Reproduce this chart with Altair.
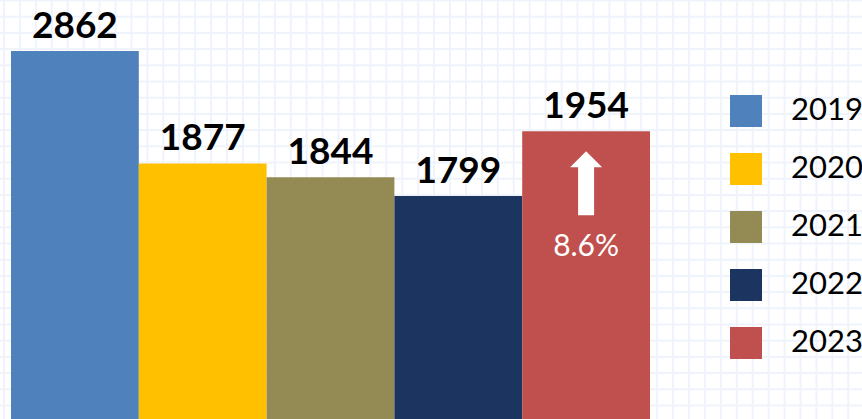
import altair as alt
import pandas as pd

# ---- data ----
years = ["2019", "2020", "2021", "2022", "2023"]
values = [2862, 1877, 1844, 1799, 1954]
colors = ["#4F81BD", "#FFC000", "#948A54", "#1B3560", "#C0504D"]
change_year = ["2023"]
change_value = [1954]
change_label = ["8.6%"]

W, H = 862, 419
FONT = "Lato"
GRID = "#EFF4FC"

df = pd.DataFrame({"year": years, "value": values})
ann = pd.DataFrame({"year": change_year, "value": change_value, "label": change_label})

# decorative background grid (graph-paper look)
grid_x = [4 + 15.93 * i for i in range(int(W / 15.93) + 1)]
grid_y = [0.5 + 16.2 * i for i in range(int(H / 16.2) + 1)]

# broken (piecewise) value scale as in the reference
ybase = 1265.2
yscale = alt.Scale(domain=[ybase, 2000, 2862], range=[H, 112.1, 51], zero=False, nice=False)
xscale = alt.Scale(domain=years, range=[11, 650], paddingInner=0, paddingOuter=0)

grid_v = alt.Chart(pd.DataFrame({"gx": grid_x})).mark_rule(color=GRID, strokeWidth=2).encode(
    x=alt.X("gx:Q", scale=alt.Scale(domain=[0, W], range=[0, W], nice=False, zero=False), axis=None)
)
grid_h = alt.Chart(pd.DataFrame({"gy": grid_y})).mark_rule(color=GRID, strokeWidth=2).encode(
    y=alt.Y("gy:Q", scale=alt.Scale(domain=[0, H], range=[0, H], nice=False, zero=False), axis=None)
)

bars = alt.Chart(df).mark_bar(strokeWidth=0).encode(
    x=alt.X("year:N", scale=xscale, axis=None),
    y=alt.Y("value:Q", scale=yscale, axis=None),
    y2=alt.datum(ybase),
    color=alt.Color(
        "year:N",
        scale=alt.Scale(domain=years, range=colors),
        legend=alt.Legend(
            orient="none",
            legendX=730,
            legendY=95,
            title=None,
            symbolType="square",
            symbolSize=1024,
            symbolStrokeWidth=0,
            symbolOpacity=1,
            labelFont=FONT,
            labelFontSize=31,
            labelColor="black",
            labelOffset=29,
            rowPadding=26,
            labelLimit=0,
            padding=0,
            direction="vertical",
        ),
    ),
)

labels = alt.Chart(df).mark_text(
    font=FONT, fontWeight="bold", fontSize=37, baseline="alphabetic", dy=-13, color="black"
).encode(
    x=alt.X("year:N", scale=xscale, axis=None),
    y=alt.Y("value:Q", scale=yscale, axis=None),
    text=alt.Text("value:Q", format="d"),
)

arrow = alt.Chart(ann).mark_point(
    shape="M0,-1 L0.5,-0.5 L0.25,-0.5 L0.25,1 L-0.25,1 L-0.25,-0.5 L-0.5,-0.5 Z",
    size=4096, filled=True, color="white", opacity=1, strokeWidth=0, yOffset=52,
).encode(
    x=alt.X("year:N", scale=xscale, axis=None),
    y=alt.Y("value:Q", scale=yscale, axis=None),
)

pct = alt.Chart(ann).mark_text(
    font=FONT, fontSize=30, baseline="alphabetic", dy=125, color="white"
).encode(
    x=alt.X("year:N", scale=xscale, axis=None),
    y=alt.Y("value:Q", scale=yscale, axis=None),
    text="label:N",
)

chart = (
    alt.layer(grid_v, grid_h, bars, labels, arrow, pct)
    .resolve_scale(x="independent", y="independent")
    .properties(width=W, height=H, autosize=alt.AutoSizeParams(type="none"), padding=0, background="white")
    .configure_view(stroke=None)
)

chart.save("out.html", embed_options={"renderer": "svg", "actions": False})
